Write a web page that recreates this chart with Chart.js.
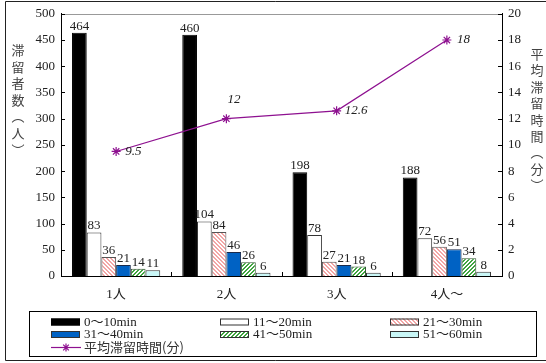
<!DOCTYPE html>
<html>
<head>
<meta charset="utf-8">
<script src="https://cdn.jsdelivr.net/npm/chart.js@4/dist/chart.umd.min.js"></script>
<style>
  html, body { margin: 0; padding: 0; background: #fff; }
  canvas { display: block; }
</style>
</head>
<body>
<canvas id="c" width="546" height="363"></canvas>
<script>
// Stay-time distribution by group size, with average stay time (minutes)
const categories = ['1人', '2人', '3人', '4人～'];
const stay0to10  = [464, 460, 198, 188];
const stay11to20 = [83, 104, 78, 72];
const stay21to30 = [36, 84, 27, 56];
const stay31to40 = [21, 46, 21, 51];
const stay41to50 = [14, 26, 18, 34];
const stay51to60 = [11, 6, 6, 8];
const avgStay    = [9.5, 12, 12.6, 18];

const seriesNames = ['0～10min', '11～20min', '21～30min', '31～40min', '41～50min', '51～60min'];
const lineName = '平均滞留時間(分)';
const leftTitle = ['滞', '留', '者', '数', '︵', '人', '︶'];
const rightTitle = ['平', '均', '滞', '留', '時', '間', '︵', '分', '︶'];

const SERIF = "'Liberation Serif', 'Times New Roman', 'Noto Sans CJK JP', serif";
const CJK = "'Noto Sans CJK JP', sans-serif";
const PURPLE = '#8e1190';

// diagonal hatch fill: stripes of `thick` pixels in a square tile
function hatch(color, forward, thick) {
  const size = 4;
  const cv = document.createElement('canvas');
  cv.width = size; cv.height = size;
  const g = cv.getContext('2d');
  g.fillStyle = '#fff';
  g.fillRect(0, 0, size, size);
  g.fillStyle = color;
  for (let k = 0; k < size; k++) {
    for (let t = 0; t < thick; t++) {
      const base = forward ? size - 1 - k : k;
      g.fillRect((base + t) % size, k, 1, 1);
    }
  }
  return g.createPattern(cv, 'repeat');
}

const fills = ['#000000', '#ffffff', hatch('#f3a6a6', false, 2), '#0062c4', hatch('#3fa53f', true, 2), '#c9f7f7'];
const borders = ['#000000', '#333333', '#555555', '#1a2a4a', '#335533', '#333333'];
const seriesValues = [stay0to10, stay11to20, stay21to30, stay31to40, stay41to50, stay51to60];

const barSets = seriesValues.map((vals, i) => ({
  type: 'bar',
  label: seriesNames[i],
  data: vals,
  yAxisID: 'y',
  backgroundColor: fills[i],
  borderColor: borders[i],
  borderWidth: 1,
  categoryPercentage: 0.8,
  barPercentage: 1.0,
  order: 2
}));

const lineSet = {
  type: 'line',
  label: lineName,
  data: avgStay,
  yAxisID: 'y2',
  borderColor: PURPLE,
  borderWidth: 1.2,
  pointStyle: 'star',
  pointRadius: 4.5,
  pointBorderColor: PURPLE,
  pointBackgroundColor: PURPLE,
  pointBorderWidth: 1.2,
  tension: 0,
  order: 1
};

function drawStar(ctx, x, y, r) {
  ctx.beginPath();
  for (let k = 0; k < 4; k++) {
    const a = k * Math.PI / 4;
    ctx.moveTo(x - r * Math.cos(a), y - r * Math.sin(a));
    ctx.lineTo(x + r * Math.cos(a), y + r * Math.sin(a));
  }
  ctx.stroke();
}

const decor = {
  id: 'decor',
  beforeDraw(chart) {
    const ctx = chart.ctx;
    ctx.save();
    ctx.fillStyle = '#fff';
    ctx.fillRect(0, 0, chart.width, chart.height);
    ctx.restore();
  },
  afterDatasetsDraw(chart) {
    const ctx = chart.ctx;
    ctx.save();
    // values above bars
    ctx.font = '13px ' + SERIF;
    ctx.fillStyle = '#222';
    ctx.textAlign = 'center';
    ctx.textBaseline = 'alphabetic';
    for (let d = 0; d < seriesValues.length; d++) {
      const meta = chart.getDatasetMeta(d);
      meta.data.forEach((el, i) => {
        ctx.fillText(String(seriesValues[d][i]), el.x, el.y - 3);
      });
    }
    // values beside the average line
    const offs = chart.options.plugins.decor.lineLabelOffsets;
    ctx.font = 'italic 13px ' + SERIF;
    ctx.textAlign = 'left';
    ctx.textBaseline = 'middle';
    const lm = chart.getDatasetMeta(seriesValues.length);
    lm.data.forEach((el, i) => {
      ctx.fillText(String(avgStay[i]), el.x + offs[i][0], el.y + offs[i][1]);
    });
    ctx.restore();
  },
  afterDraw(chart) {
    const ctx = chart.ctx;
    const a = chart.chartArea;
    const sx = chart.scales.x, sy = chart.scales.y, sy2 = chart.scales.y2;
    ctx.save();
    ctx.lineWidth = 1;

    // plot top edge
    ctx.strokeStyle = '#999';
    ctx.beginPath();
    ctx.moveTo(a.left, Math.round(a.top) + 0.5);
    ctx.lineTo(a.right, Math.round(a.top) + 0.5);
    ctx.stroke();

    // inward tick marks
    ctx.strokeStyle = '#000';
    ctx.beginPath();
    sy.ticks.forEach(t => {
      const y = Math.round(sy.getPixelForValue(t.value)) + 0.5;
      ctx.moveTo(a.left, y); ctx.lineTo(a.left + 4, y);
    });
    sy2.ticks.forEach(t => {
      const y = Math.round(sy2.getPixelForValue(t.value)) + 0.5;
      ctx.moveTo(a.right, y); ctx.lineTo(a.right - 4, y);
    });
    for (let i = 0; i < categories.length - 1; i++) {
      const x = Math.round((sx.getPixelForValue(i) + sx.getPixelForValue(i + 1)) / 2) + 0.5;
      ctx.moveTo(x, a.bottom); ctx.lineTo(x, a.bottom - 4);
    }
    ctx.stroke();

    // vertical axis titles
    ctx.font = '13px ' + CJK;
    ctx.fillStyle = '#444';
    ctx.textAlign = 'center';
    ctx.textBaseline = 'middle';
    leftTitle.forEach((ch, i) => ctx.fillText(ch, 18, 50 + i * 16.6));
    rightTitle.forEach((ch, i) => ctx.fillText(ch, 537, 54 + i * 16.4));

    // outer frame
    ctx.strokeStyle = '#222';
    ctx.beginPath();
    ctx.moveTo(546, 1.5); ctx.lineTo(5.5, 1.5); ctx.lineTo(5.5, 360.5); ctx.lineTo(546, 360.5);
    ctx.stroke();

    // legend
    ctx.strokeStyle = '#000';
    ctx.strokeRect(29.5, 311.5, 507, 45);
    const cols = [51, 220, 390];
    const rows = [322, 334.5, 347];
    ctx.font = '13px ' + SERIF;
    ctx.textAlign = 'left';
    ctx.textBaseline = 'middle';
    chart.data.datasets.forEach((ds, i) => {
      if (ds.type === 'bar') {
        const x = cols[i % 3], y = rows[Math.floor(i / 3)];
        ctx.fillStyle = ds.backgroundColor;
        ctx.fillRect(x, y - 3.5, 29, 7);
        ctx.strokeStyle = i === 0 ? '#000' : '#333';
        ctx.strokeRect(x + 0.5, y - 3, 28, 6);
        ctx.fillStyle = '#222';
        ctx.fillText(ds.label, x + 33, y + 0.5);
      } else {
        const x = cols[0], y = rows[2];
        ctx.strokeStyle = PURPLE;
        ctx.lineWidth = 1.2;
        ctx.beginPath();
        ctx.moveTo(x, y + 0.5); ctx.lineTo(x + 30, y + 0.5);
        ctx.stroke();
        drawStar(ctx, x + 15, y + 0.5, 4);
        ctx.font = '13px ' + CJK;
        ctx.fillStyle = '#333';
        ctx.fillText(ds.label, x + 33, y);
      }
    });
    ctx.restore();
  }
};

new Chart(document.getElementById('c'), {
  data: { labels: categories, datasets: [...barSets, lineSet] },
  options: {
    responsive: false,
    animation: false,
    devicePixelRatio: 1,
    layout: { padding: { top: 12, left: 0, right: 0, bottom: 0 } },
    plugins: {
      legend: { display: false },
      tooltip: { enabled: false },
      decor: { lineLabelOffsets: [[9, 0], [1, -19], [8, 0], [10, 0]] }
    },
    scales: {
      x: {
        grid: { display: false, drawTicks: false },
        border: { display: true, color: '#000', width: 1 },
        ticks: { color: '#222', font: { family: SERIF, size: 13 }, padding: 11 },
        afterFit: s => { s.height = 87; }
      },
      y: {
        position: 'left',
        min: 0, max: 500,
        grid: { display: false, drawTicks: false },
        border: { display: true, color: '#000', width: 1 },
        ticks: { stepSize: 50, color: '#222', font: { family: SERIF, size: 13 }, padding: 6 },
        afterFit: s => { s.width = 61; }
      },
      y2: {
        position: 'right',
        min: 0, max: 20,
        grid: { display: false, drawTicks: false },
        border: { display: true, color: '#000', width: 1 },
        ticks: { stepSize: 2, color: '#222', font: { family: SERIF, size: 13 }, padding: 6 },
        afterFit: s => { s.width = 44; }
      }
    }
  },
  plugins: [decor]
});
</script>
</body>
</html>
